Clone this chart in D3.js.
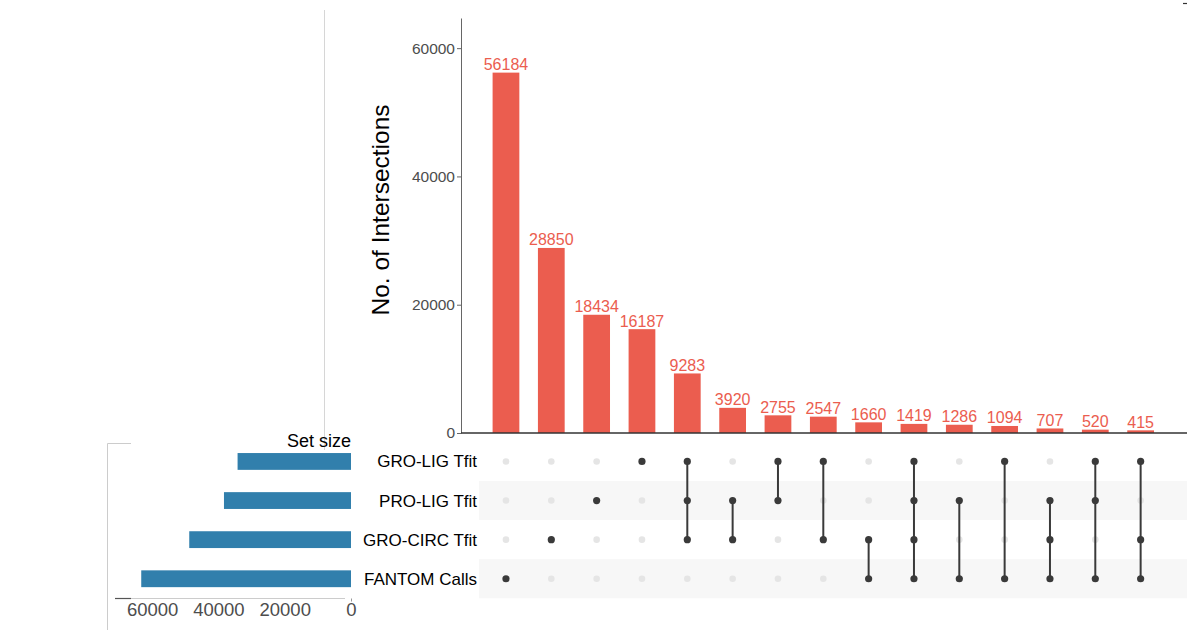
<!DOCTYPE html>
<html>
<head>
<meta charset="utf-8">
<script src="https://cdn.jsdelivr.net/npm/d3@7"></script>
<style>
  body { margin: 0; background: #fff; }
  svg { display: block; font-family: "Liberation Sans", Arial, Helvetica, sans-serif; }
</style>
</head>
<body>
<svg id="chart" width="1187" height="630"></svg>
<script>
// Sets, in matrix row order (top to bottom)
const setNames = ["GRO-LIG Tfit", "PRO-LIG Tfit", "GRO-CIRC Tfit", "FANTOM Calls"];
const setSizes = [34220, 38324, 48801, 63285];

// Intersections, sorted by size
const intersectionCounts = [56184, 28850, 18434, 16187, 9283, 3920, 2755, 2547, 1660, 1419, 1286, 1094, 707, 520, 415];
const intersectionMembers = [
  ["FANTOM Calls"],
  ["GRO-CIRC Tfit"],
  ["PRO-LIG Tfit"],
  ["GRO-LIG Tfit"],
  ["GRO-LIG Tfit", "PRO-LIG Tfit", "GRO-CIRC Tfit"],
  ["PRO-LIG Tfit", "GRO-CIRC Tfit"],
  ["GRO-LIG Tfit", "PRO-LIG Tfit"],
  ["GRO-LIG Tfit", "GRO-CIRC Tfit"],
  ["GRO-CIRC Tfit", "FANTOM Calls"],
  ["GRO-LIG Tfit", "PRO-LIG Tfit", "GRO-CIRC Tfit", "FANTOM Calls"],
  ["PRO-LIG Tfit", "FANTOM Calls"],
  ["GRO-LIG Tfit", "FANTOM Calls"],
  ["PRO-LIG Tfit", "GRO-CIRC Tfit", "FANTOM Calls"],
  ["GRO-LIG Tfit", "PRO-LIG Tfit", "FANTOM Calls"],
  ["GRO-LIG Tfit", "GRO-CIRC Tfit", "FANTOM Calls"]
];

const countTicks = [0, 20000, 40000, 60000];
const sizeTicks = [0, 20000, 40000, 60000];

const barColor = "#EB5D4F";
const setBarColor = "#317FAC";
const dotDark = "#3a3a3a";
const dotLight = "#e5e5e5";
const tickText = "#4d4d4d";

const svg = d3.select("#chart");

// ---- scales ----
const x = d3.scaleBand().domain(d3.range(intersectionCounts.length)).range([483.3, 1163.3]);
const barW = x.bandwidth() * 0.59;
const cx = i => x(i) + x.bandwidth() / 2;

const y = d3.scaleLinear().domain([0, 64700]).range([433, 18]);

const row = d3.scaleBand().domain(setNames).range([441.9, 598.3]);
const cy = s => row(s) + row.bandwidth() / 2;

const sizeX = d3.scaleLinear().domain([0, 70900]).range([351, 116]);

// ---- decorative guide lines ----
svg.append("line").attr("x1", 324.5).attr("x2", 324.5).attr("y1", 10).attr("y2", 450)
  .attr("stroke", "#d6d6d6").attr("stroke-width", 1);
svg.append("path").attr("d", "M131,443.5H107.5V630").attr("fill", "none")
  .attr("stroke", "#cccccc").attr("stroke-width", 1);
svg.append("line").attr("x1", 1183).attr("x2", 1187).attr("y1", 3.5).attr("y2", 3.5)
  .attr("stroke", "#333").attr("stroke-width", 1.2);

// ---- intersection size bars ----
const barPanel = svg.append("g");

barPanel.selectAll("rect.bar").data(intersectionCounts).join("rect")
  .attr("class", "bar")
  .attr("x", (d, i) => cx(i) - barW / 2)
  .attr("width", barW)
  .attr("y", d => y(d))
  .attr("height", d => y(0) - y(d))
  .attr("fill", barColor);

barPanel.selectAll("text.val").data(intersectionCounts).join("text")
  .attr("class", "val")
  .attr("x", (d, i) => cx(i))
  .attr("y", d => y(d) - 2.5)
  .attr("text-anchor", "middle")
  .attr("font-size", 16)
  .attr("fill", barColor)
  .text(d => d);

const yAxis = barPanel.append("g")
  .attr("transform", "translate(461,0)")
  .call(d3.axisLeft(y).tickValues(countTicks).tickSize(4).tickSizeOuter(0).tickPadding(2).tickFormat(d3.format("d")));
yAxis.select(".domain").attr("stroke", "#666");
yAxis.selectAll(".tick line").attr("stroke", "#666");
yAxis.selectAll(".tick text").attr("font-size", 15.5).attr("fill", tickText)
  .attr("font-family", "Liberation Sans, Arial, sans-serif");

barPanel.append("line").attr("x1", 461).attr("x2", 1187).attr("y1", y(0)).attr("y2", y(0))
  .attr("stroke", "#333").attr("stroke-width", 1.3);

barPanel.append("text")
  .attr("transform", "translate(389,210) rotate(-90)")
  .attr("text-anchor", "middle")
  .attr("font-size", 24.5)
  .attr("fill", "#000")
  .text("No. of Intersections");

// ---- matrix ----
const matrix = svg.append("g");

matrix.selectAll("rect.band").data(setNames.filter((s, i) => i % 2 === 1)).join("rect")
  .attr("class", "band")
  .attr("x", 479).attr("width", 1187 - 479)
  .attr("y", s => row(s)).attr("height", row.bandwidth())
  .attr("fill", "#f7f7f7");

const cells = [];
intersectionMembers.forEach((m, i) => setNames.forEach(s => cells.push({ i, s, on: m.includes(s) })));

matrix.selectAll("circle.off").data(cells.filter(c => !c.on)).join("circle")
  .attr("class", "off")
  .attr("cx", c => cx(c.i)).attr("cy", c => cy(c.s)).attr("r", 3.3)
  .attr("fill", dotLight);

matrix.selectAll("line.link").data(intersectionMembers.map((m, i) => ({ i, m })).filter(d => d.m.length > 1)).join("line")
  .attr("class", "link")
  .attr("x1", d => cx(d.i)).attr("x2", d => cx(d.i))
  .attr("y1", d => d3.min(d.m, cy)).attr("y2", d => d3.max(d.m, cy))
  .attr("stroke", dotDark).attr("stroke-width", 2);

matrix.selectAll("circle.on").data(cells.filter(c => c.on)).join("circle")
  .attr("class", "on")
  .attr("cx", c => cx(c.i)).attr("cy", c => cy(c.s)).attr("r", 3.6)
  .attr("fill", dotDark);

matrix.selectAll("text.set").data(setNames).join("text")
  .attr("class", "set")
  .attr("x", 477).attr("y", s => cy(s))
  .attr("dy", "0.35em")
  .attr("text-anchor", "end")
  .attr("font-size", 17)
  .attr("fill", "#000")
  .text(s => s);

// ---- set size bars ----
const sizes = svg.append("g");
const setBarH = row.bandwidth() * 0.43;

sizes.selectAll("rect.size").data(setSizes).join("rect")
  .attr("class", "size")
  .attr("x", d => sizeX(d))
  .attr("width", d => sizeX(0) - sizeX(d))
  .attr("y", (d, i) => cy(setNames[i]) - setBarH / 2)
  .attr("height", setBarH)
  .attr("fill", setBarColor);

sizes.append("line").attr("x1", 131).attr("x2", 345).attr("y1", 598.5).attr("y2", 598.5)
  .attr("stroke", "#cccccc").attr("stroke-width", 1.2);
sizes.append("line").attr("x1", 115).attr("x2", 131).attr("y1", 598.5).attr("y2", 598.5)
  .attr("stroke", "#555").attr("stroke-width", 1.2);

const sAxis = sizes.append("g")
  .attr("transform", "translate(0,598.5)")
  .call(d3.axisBottom(sizeX).tickValues(sizeTicks).tickSize(3).tickPadding(1.5).tickFormat(d3.format("d")));
sAxis.select(".domain").remove();
sAxis.selectAll(".tick line").attr("stroke", (d) => d === 0 ? "#999" : "none");
sAxis.selectAll(".tick text").attr("font-size", 18.5).attr("fill", tickText)
  .attr("font-family", "Liberation Sans, Arial, sans-serif");

sizes.append("text")
  .attr("x", 351).attr("y", 447)
  .attr("text-anchor", "end")
  .attr("font-size", 18)
  .attr("fill", "#000")
  .text("Set size");
</script>
</body>
</html>
